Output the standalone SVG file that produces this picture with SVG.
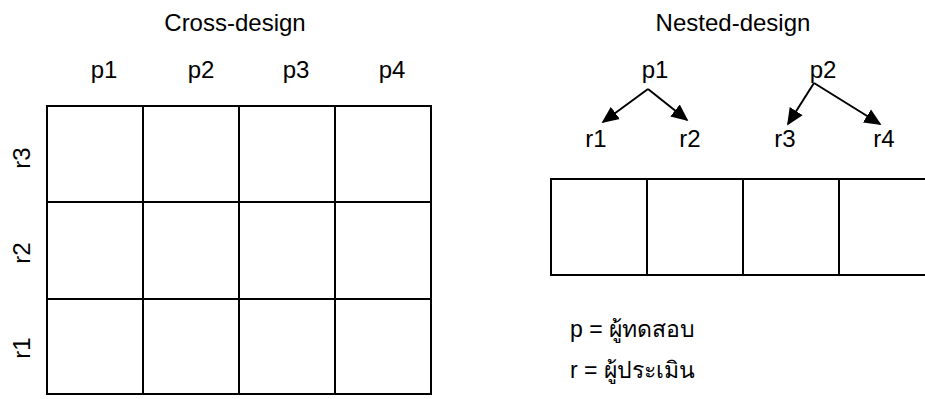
<svg xmlns="http://www.w3.org/2000/svg" width="925" height="399" viewBox="0 0 925 399">
<style>
text{font-family:"Liberation Sans",Arial,sans-serif;font-size:24px;fill:#000}
.t{font-size:24px}
.cell{fill:#fff;stroke:#000;stroke-width:2}
.conn{stroke:#000;stroke-width:2;fill:none;marker-end:url(#ah)}
.leg{font-family:"Liberation Sans","Noto Sans","DejaVu Sans",sans-serif;font-size:23px}
</style>
<defs>
<marker id="ah" viewBox="0 0 10 9" refX="9" refY="4.5" markerWidth="8.5" markerHeight="8" markerUnits="strokeWidth" orient="auto">
<path d="M0,0 L10,4.5 L0,9 z" fill="#000"/>
</marker>
</defs>
<rect width="925" height="399" fill="#fff"/>
<g id="cross-title"><text class="t" x="235" y="31" text-anchor="middle">Cross-design</text></g>
<g id="cross-cols">
<text x="104" y="78" text-anchor="middle">p1</text>
<text x="201" y="78" text-anchor="middle">p2</text>
<text x="296" y="78" text-anchor="middle">p3</text>
<text x="392" y="78" text-anchor="middle">p4</text>
</g>
<g id="cross-rows">
<text transform="translate(30,158) rotate(-90)" text-anchor="middle">r3</text>
<text transform="translate(30,253) rotate(-90)" text-anchor="middle">r2</text>
<text transform="translate(30,348) rotate(-90)" text-anchor="middle">r1</text>
</g>
<g id="cross-grid">
<rect class="cell" x="47" y="106" width="96" height="96"/>
<rect class="cell" x="143" y="106" width="96" height="96"/>
<rect class="cell" x="239" y="106" width="96" height="96"/>
<rect class="cell" x="335" y="106" width="96" height="96"/>
<rect class="cell" x="47" y="202" width="96" height="97"/>
<rect class="cell" x="143" y="202" width="96" height="97"/>
<rect class="cell" x="239" y="202" width="96" height="97"/>
<rect class="cell" x="335" y="202" width="96" height="97"/>
<rect class="cell" x="47" y="299" width="96" height="95"/>
<rect class="cell" x="143" y="299" width="96" height="95"/>
<rect class="cell" x="239" y="299" width="96" height="95"/>
<rect class="cell" x="335" y="299" width="96" height="95"/>
</g>
<g id="nested-title"><text class="t" x="733" y="31" text-anchor="middle">Nested-design</text></g>
<g id="node-p1"><text x="655" y="78" text-anchor="middle">p1</text></g>
<g id="node-p2"><text x="823" y="78" text-anchor="middle">p2</text></g>
<g id="node-r1"><text x="596" y="147" text-anchor="middle">r1</text></g>
<g id="node-r2"><text x="690" y="147" text-anchor="middle">r2</text></g>
<g id="node-r3"><text x="785" y="147" text-anchor="middle">r3</text></g>
<g id="node-r4"><text x="884" y="147" text-anchor="middle">r4</text></g>
<g id="connectors">
<line class="conn" x1="648" y1="89" x2="603" y2="122"/>
<line class="conn" x1="648" y1="89" x2="687" y2="120"/>
<line class="conn" x1="814" y1="83" x2="788" y2="124"/>
<line class="conn" x1="814" y1="83" x2="880" y2="124"/>
</g>
<g id="nested-grid">
<rect class="cell" x="551" y="179" width="96" height="96"/>
<rect class="cell" x="647" y="179" width="96" height="96"/>
<rect class="cell" x="743" y="179" width="96" height="96"/>
<rect class="cell" x="839" y="179" width="100" height="96"/>
</g>
<g id="legend">
<text class="leg" x="570" y="337">p = ผู้ทดสอบ</text>
<text class="leg" x="570" y="378">r = ผู้ประเมิน</text>
</g>
</svg>
